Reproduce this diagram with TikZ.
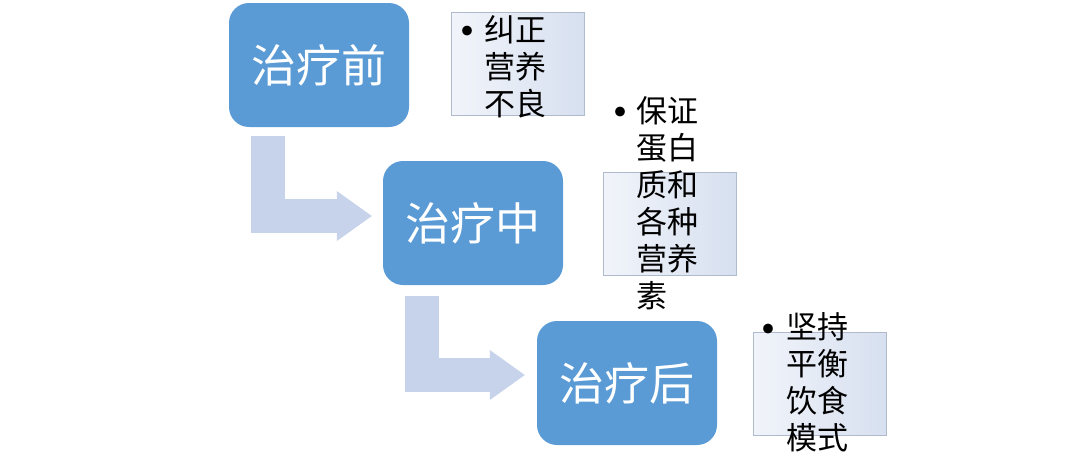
\documentclass[tikz,border=0pt]{standalone}
\usepackage{fontspec}
\setmainfont{Noto Sans CJK SC}
\usetikzlibrary{arrows.meta, positioning}

\definecolor{stageblue}{HTML}{5B9BD5}
\definecolor{bendblue}{HTML}{C6D3EA}
\definecolor{notelight}{HTML}{F1F4FA}
\definecolor{notedark}{HTML}{D7E0F0}
\definecolor{noteline}{HTML}{AFBACD}

\tikzset{
	stage/.style={fill=stageblue, rounded corners=20pt, minimum width=180pt, minimum height=124pt, text=white, font=\fontsize{45}{54}\selectfont},
	note/.style={left color=notelight, right color=notedark, draw=noteline, line width=0.8pt, minimum width=133pt, minimum height=103pt},
	notetext/.style={anchor=base west, align=left, inner sep=0pt, font=\fontsize{31}{37}\selectfont},
	notedot/.style={inner sep=0pt, font=\fontsize{46}{46}\selectfont},
	stagearrow/.style={draw=bendblue, line width=34pt, -{Triangle[length=35pt, width=50pt, line width=0pt]}}
}

\begin{document}
\begin{tikzpicture}[x=1pt, y=-1pt]
	\useasboundingbox (0,0) rectangle (1080,458);
	\node[stage] (Pre) at (319,65) {治疗前};
	\node[stage] (Mid) at (473,223) {治疗中};
	\node[stage] (Post) at (627,383) {治疗后};
	\node[note] (PreBox) at (518,63.5) {};
	\node[note] (MidBox) at (669.5,224) {};
	\node[note] (PostBox) at (819.5,384) {};
	\node[notedot] (PreDot) at (467,37) {\makebox[0pt]{•}};
	\node[notedot] (MidDot) at (620,118) {\makebox[0pt]{•}};
	\node[notedot] (PostDot) at (768,335) {\makebox[0pt]{•}};
	% base west sits on the last line
	\node[notetext] (PreNote) at (484,115) {纠正\\营养\\不良};
	\node[notetext] (MidNote) at (636,307) {保证\\蛋白\\质和\\各种\\营养\\素};
	\node[notetext] (PostNote) at (786,449) {坚持\\平衡\\饮食\\模式};
	\draw[stagearrow] ([shift={(39.5pt,-9pt)}]Pre.south west) |- ([shift={(-11pt,7pt)}]Mid.west);
	\draw[stagearrow] ([shift={(39.5pt,-11pt)}]Mid.south west) |- ([shift={(-12pt,8pt)}]Post.west);
\end{tikzpicture}
\end{document}
